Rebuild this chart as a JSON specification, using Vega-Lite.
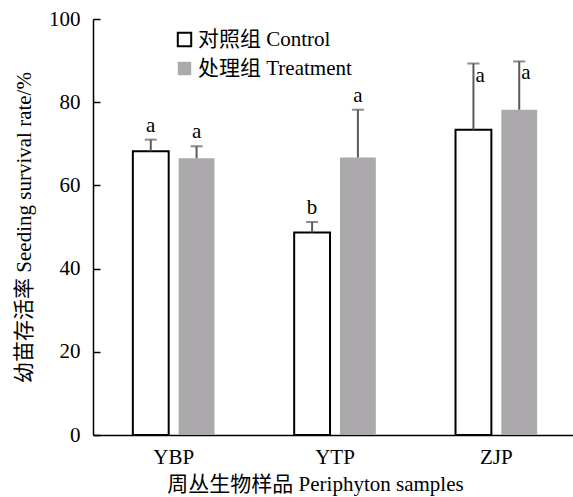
{
  "$schema": "https://vega.github.io/schema/vega-lite/v6.json",
  "autosize": "none",
  "padding": {"left": 93, "top": 19, "right": 0, "bottom": 62},
  "width": 484,
  "height": 416,
  "background": "white",
  "config": {
    "view": {"stroke": null},
    "font": "Liberation Serif, Noto Sans CJK SC",
    "axis": {"labelFont": "Liberation Serif, Noto Sans CJK SC", "titleFont": "Liberation Serif, Noto Sans CJK SC", "labelColor": "black", "titleColor": "black", "domainColor": "black", "tickColor": "black", "titleFontWeight": "normal", "labelFontWeight": "normal"},
    "legend": {"labelFont": "Liberation Serif, Noto Sans CJK SC"}
  },
  "data": {
    "values": [
      {"sample": "YBP", "group": "对照组 Control", "value": 68.2, "upper": 71.0, "sig": "a"},
      {"sample": "YBP", "group": "处理组 Treatment", "value": 66.5, "upper": 69.4, "sig": "a"},
      {"sample": "YTP", "group": "对照组 Control", "value": 48.7, "upper": 51.2, "sig": "b"},
      {"sample": "YTP", "group": "处理组 Treatment", "value": 66.7, "upper": 78.2, "sig": "a"},
      {"sample": "ZJP", "group": "对照组 Control", "value": 73.4, "upper": 89.3, "sig": "a"},
      {"sample": "ZJP", "group": "处理组 Treatment", "value": 78.2, "upper": 89.8, "sig": "a"}
    ]
  },
  "encoding": {
    "x": {
      "field": "sample", "type": "nominal",
      "scale": {"domain": ["YBP", "YTP", "ZJP"], "paddingInner": 0, "paddingOuter": 0},
      "axis": {"title": "周丛生物样品 Periphyton samples", "labelAngle": 0, "ticks": false, "labelFontSize": 21, "titleFontSize": 21, "labelPadding": 11, "titlePadding": 6, "domainWidth": 1.5, "titleX": 222}
    },
    "xOffset": {
      "field": "group", "type": "nominal",
      "scale": {"domain": ["对照组 Control", "处理组 Treatment"], "paddingInner": 0.217, "paddingOuter": 0.87}
    }
  },
  "layer": [
    {
      "mark": {"type": "bar", "strokeWidth": 2},
      "encoding": {
        "y": {
          "field": "value", "type": "quantitative",
          "scale": {"domain": [0, 100], "nice": false},
          "axis": {"title": "幼苗存活率 Seeding survival rate/%", "values": [0, 20, 40, 60, 80, 100], "grid": false, "tickSize": -7, "labelPadding": 20, "labelFontSize": 21, "titleFontSize": 21, "titlePadding": 14, "domainWidth": 1.5, "tickWidth": 1.5}
        },
        "fill": {
          "field": "group", "type": "nominal",
          "scale": {"domain": ["对照组 Control", "处理组 Treatment"], "range": ["white", "#ACA9AC"]},
          "legend": {"title": null, "orient": "none", "legendX": 81, "legendY": 10, "symbolType": "square", "symbolSize": 180, "symbolStrokeWidth": 2, "labelFontSize": 21, "rowPadding": 6, "labelOffset": 3, "labelColor": "black"}
        },
        "stroke": {
          "field": "group", "type": "nominal",
          "scale": {"domain": ["对照组 Control", "处理组 Treatment"], "range": ["black", "transparent"]},
          "legend": {"title": null, "orient": "none", "legendX": 81, "legendY": 10, "symbolType": "square", "symbolSize": 180, "symbolStrokeWidth": 2, "labelFontSize": 21, "rowPadding": 6, "labelOffset": 3, "labelColor": "black"}
        }
      }
    },
    {
      "mark": {"type": "rule", "color": "#5a5a5a", "strokeWidth": 2},
      "encoding": {
        "y": {"field": "value", "type": "quantitative"},
        "y2": {"field": "upper"}
      }
    },
    {
      "mark": {"type": "tick", "color": "#5a5a5a", "size": 12, "thickness": 2, "orient": "horizontal"},
      "encoding": {
        "y": {"field": "upper", "type": "quantitative"}
      }
    },
    {
      "transform": [{"filter": "datum.sample != 'ZJP'"}],
      "mark": {"type": "text", "fontSize": 21, "baseline": "bottom", "dy": -4, "color": "black"},
      "encoding": {
        "y": {"field": "upper", "type": "quantitative"},
        "text": {"field": "sig"}
      }
    },
    {
      "transform": [{"filter": "datum.sample == 'ZJP'"}],
      "mark": {"type": "text", "fontSize": 21, "baseline": "top", "align": "left", "dx": 2, "dy": 1, "color": "black"},
      "encoding": {
        "y": {"field": "upper", "type": "quantitative"},
        "text": {"field": "sig"}
      }
    }
  ]
}
